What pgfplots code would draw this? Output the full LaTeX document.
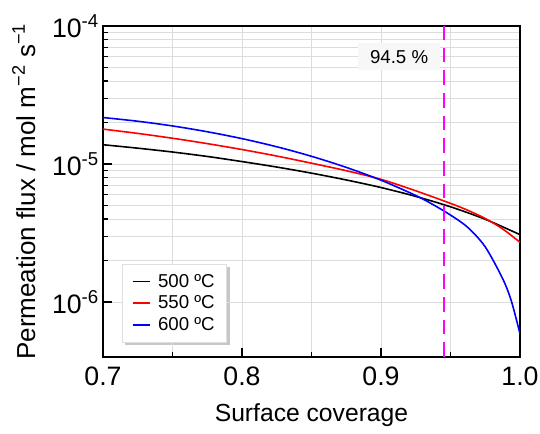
\documentclass[border=0pt]{standalone}
\usepackage{fontspec}
\setmainfont{Liberation Sans}
\usepackage{pgfplots}
\pgfplotsset{compat=1.18}
\usetikzlibrary{backgrounds}

% 500 C
\pgfplotstableread{
x y
0.700 1.380e-5
0.725 1.303e-5
0.750 1.222e-5
0.775 1.135e-5
0.800 1.042e-5
0.825 9.51e-6
0.850 8.59e-6
0.875 7.67e-6
0.900 6.76e-6
0.925 5.83e-6
0.950 4.90e-6
0.975 3.98e-6
1.000 3.08e-6
}\tblA

% 550 C
\pgfplotstableread{
x y
0.700 1.791e-5
0.725 1.667e-5
0.750 1.538e-5
0.775 1.406e-5
0.800 1.274e-5
0.825 1.143e-5
0.850 1.014e-5
0.875 8.95e-6
0.900 7.75e-6
0.925 6.40e-6
0.950 5.19e-6
0.9625 4.62e-6
0.975 4.03e-6
0.9875 3.39e-6
1.000 2.71e-6
}\tblB

% 600 C
\pgfplotstableread{
x y
0.700 2.173e-5
0.725 2.042e-5
0.750 1.888e-5
0.775 1.714e-5
0.800 1.528e-5
0.825 1.334e-5
0.850 1.138e-5
0.875 9.46e-6
0.900 7.64e-6
0.925 5.92e-6
0.9375 5.08e-6
0.950 4.27e-6
0.9625 3.47e-6
0.975 2.51e-6
0.9875 1.48e-6
0.99375 1.02e-6
1.000 5.89e-7
}\tblC

\definecolor{gridgray}{HTML}{DCDCDC}
\definecolor{mag}{HTML}{FF00FF}
\newcommand{\sexp}[1]{\raisebox{0.75ex}{\fontsize{14}{16}\selectfont #1}}

\begin{document}
\begin{tikzpicture}
\useasboundingbox (-77.25pt,-57pt) rectangle (327.75pt,267.75pt);
\begin{axis}[
  scale only axis,
  width=312.75pt, height=248.25pt,
  ymode=log,
  xmin=0.7, xmax=1.0,
  ymin=4e-7, ymax=1e-4,
  xtick={0.7,0.8,0.9,1.0},
  xticklabels={0.7,0.8,0.9,1.0},
  minor xtick={0.75,0.85,0.95},
  ytick={1e-6,1e-5,1e-4},
  yticklabels={10\sexp{-6},10\sexp{-5},10\sexp{-4}},
  /pgf/number format/assume math mode=true,
  tick label style={font=\fontsize{20}{23}\selectfont},
  xticklabel style={yshift=-3.5pt},
  tick pos=left, tick align=inside,
  major tick length=7pt, minor tick length=3.5pt,
  tick style={black, line width=1pt},
  grid=both,
  major grid style={gridgray, line width=0.6pt},
  minor grid style={gridgray, line width=0.6pt},
  axis line style={line width=1.5pt},
  xlabel={Surface coverage},
  ylabel={Permeation flux / mol m\textsuperscript{−2} s\textsuperscript{−1}},
  xlabel style={font=\fontsize{18.5}{21}\selectfont, at={(axis description cs:0.5,-0.175)}, anchor=center},
  ylabel style={font=\fontsize{19.5}{22}\selectfont, at={(axis description cs:-0.19,0.5)}, anchor=center},
  legend style={name=leg, at={(axis description cs:0.046,0.045)}, anchor=south west,
    font=\fontsize{14}{16}\selectfont, draw=gray!25, fill=white,
    inner xsep=7pt, inner ysep=5pt, row sep=1pt},
  legend cell align=left,
  legend image code/.code={\draw[#1] (0pt,0pt) -- (13pt,0pt); \path (16.5pt,0pt);},
]
\addplot[black, line width=1.2pt, smooth] table {\tblA};
\addlegendentry{500 ºC}
\addplot[red, line width=1.2pt, smooth] table {\tblB};
\addlegendentry{550 ºC}
\addplot[blue, line width=1.2pt, smooth] table {\tblC};
\addlegendentry{600 ºC}
\node[fill=white!97!black, inner xsep=9pt, inner ysep=5pt, font=\fontsize{14}{16}\selectfont]
  at (axis cs:0.913,6e-5) {94.5 \%};
\addplot[mag, line width=1.5pt, dash pattern=on 11pt off 6pt, forget plot]
  coordinates {(0.945,4e-7) (0.945,1e-4)};
\end{axis}
\begin{pgfonlayer}{background}
  \fill[black, opacity=0.22] ([shift={(2pt,-2pt)}]leg.south west) rectangle ([shift={(2pt,-2pt)}]leg.north east);
\end{pgfonlayer}
\end{tikzpicture}
\end{document}
